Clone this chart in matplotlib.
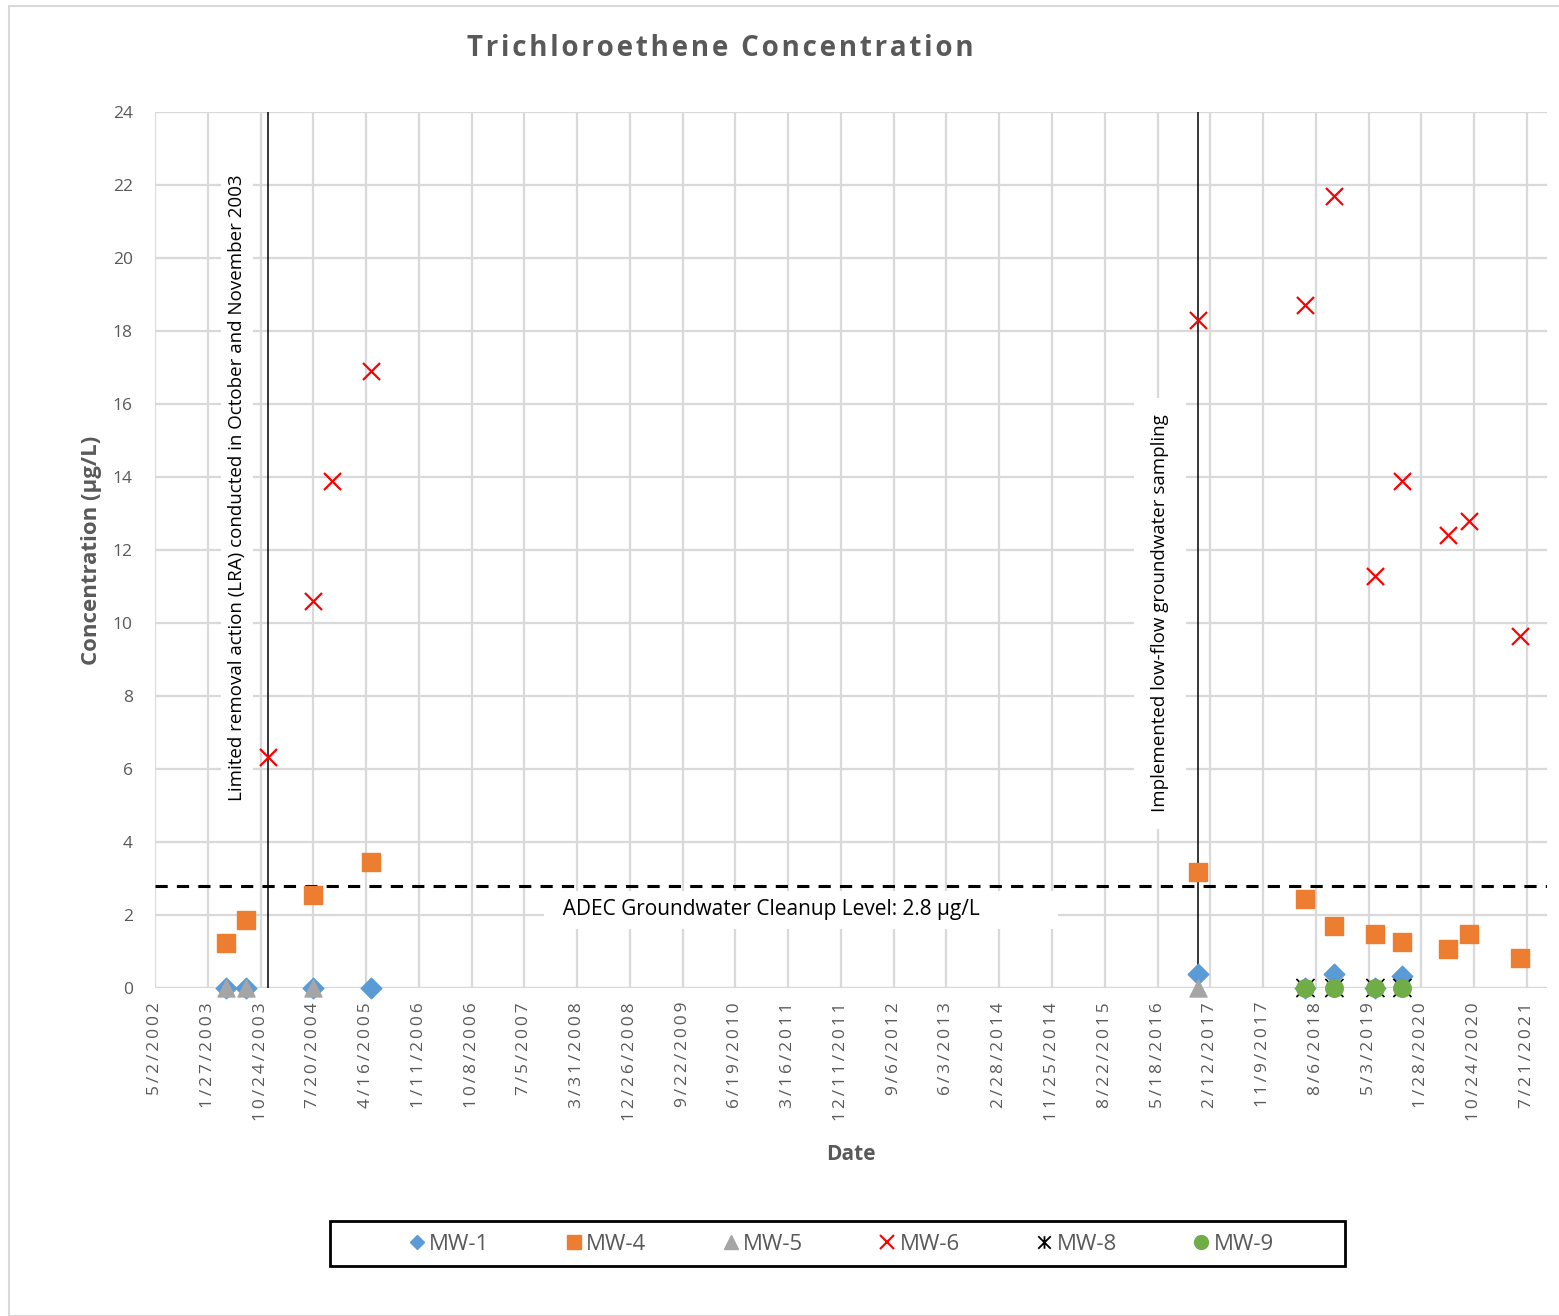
import numpy as np
import pandas as pd
import matplotlib
matplotlib.use("Agg")
import matplotlib.pyplot as plt
from matplotlib.patches import Rectangle
from matplotlib.lines import Line2D
from matplotlib.path import Path

plt.rcParams["font.family"] = ["Open Sans", "DejaVu Sans"]

GRAY_TXT = "#595959"
GRID = "#d9d9d9"

# ── sample results (µg/L) ─────────────────────────────────────────────────────
mw1_dates = ["2003-04-30", "2003-08-10", "2004-07-19", "2005-05-11", "2016-12-09",
             "2018-06-14", "2018-11-09", "2019-06-07", "2019-10-23"]
mw1_vals = [0, 0, 0, 0, 0.37, 0, 0.37, 0, 0.33]

mw4_dates = ["2003-04-30", "2003-08-10", "2004-07-19", "2005-05-11", "2016-12-09",
             "2018-06-14", "2018-11-09", "2019-06-07", "2019-10-23", "2020-06-14",
             "2020-09-30", "2021-06-18"]
mw4_vals = [1.24, 1.85, 2.54, 3.45, 3.19, 2.44, 1.71, 1.47, 1.27, 1.07, 1.49, 0.83]

mw5_dates = ["2003-04-30", "2003-08-10", "2004-07-19", "2016-12-09"]
mw5_vals = [0, 0, 0, 0]

mw6_dates = ["2003-12-01", "2004-07-19", "2004-10-24", "2005-05-11", "2016-12-09",
             "2018-06-14", "2018-11-09", "2019-06-07", "2019-10-23", "2020-06-14",
             "2020-09-30", "2021-06-18"]
mw6_vals = [6.33, 10.6, 13.9, 16.9, 18.3, 18.7, 21.7, 11.3, 13.9, 12.4, 12.8, 9.65]

mw8_dates = ["2018-06-14", "2018-11-09", "2019-06-07", "2019-10-23"]
mw8_vals = [0, 0, 0, 0]

mw9_dates = ["2018-06-14", "2018-11-09", "2019-06-07", "2019-10-23"]
mw9_vals = [0, 0, 0, 0]

cleanup_level = 2.8
lra_date = "2003-12-01"
lowflow_date = "2016-12-09"

# date axis: 270-day major unit starting 5/2/2002
tick_start = "2002-05-02"
tick_step_days = 270
n_ticks = 27
x_max = "2021-11-01"

THIN = "\u2009"
NBSP = "\u00a0"

# "star" marker: an X crossed by a vertical stroke
STAR = Path([(-1, -1), (1, 1), (-1, 1), (1, -1), (0, -1), (0, 1)],
            [Path.MOVETO, Path.LINETO, Path.MOVETO, Path.LINETO, Path.MOVETO, Path.LINETO])


def d(lst):
    return pd.to_datetime(lst)


def spaced(s, sep=THIN):
    return sep.join(s)


fig = plt.figure(figsize=(15.59, 13.16), dpi=100)
ax = fig.add_axes([155 / 1559, 1 - 988 / 1316, (1547 - 155) / 1559, (988 - 112) / 1316])

# outer chart border
fig.add_artist(Rectangle((9 / 1559, 0), 1.0, 1 - 6 / 1316, transform=fig.transFigure,
                         fill=False, edgecolor=GRID, linewidth=1.5))

ticks = pd.date_range(tick_start, periods=n_ticks, freq=f"{tick_step_days}D")
ax.set_xlim(pd.Timestamp(tick_start), pd.Timestamp(x_max))
ax.set_ylim(0, 24)
ax.set_xticks(ticks)
ax.set_xticklabels([spaced(f"{t.month}/{t.day}/{t.year}") for t in ticks], rotation=90,
                   color=GRAY_TXT, fontsize=12.5)
ax.set_yticks(np.arange(0, 25, 2))
ax.tick_params(axis="y", colors=GRAY_TXT, labelsize=12.5, length=0, pad=16)
ax.tick_params(axis="x", length=0, pad=10)
ax.grid(True, color=GRID, linewidth=1.6)
ax.set_axisbelow(True)
for s in ax.spines.values():
    s.set_visible(False)
ax.axhline(0, color=GRID, linewidth=1.6, zorder=1)

ax.set_xlabel("Date", fontsize=15, fontweight="bold", color=GRAY_TXT)
ax.xaxis.set_label_coords(0.5, -(1155 - 988) / 876, transform=ax.transAxes)
ax.xaxis.label.set_va("center")
ax.set_ylabel("Concentration (µg/L)", fontsize=16, fontweight="bold", color=GRAY_TXT)
ax.yaxis.set_label_coords((92 - 155) / 1392, 0.5, transform=ax.transAxes)
ax.yaxis.label.set_va("center")

# reference lines
ax.axhline(cleanup_level, color="black", linestyle=(0, (4, 3)), linewidth=2.2, zorder=3.5)
ax.axvline(pd.Timestamp(lra_date), color="black", linewidth=1.1, zorder=3.5)
ax.axvline(pd.Timestamp(lowflow_date), color="black", linewidth=1.1, zorder=3.5)

ax.text(pd.Timestamp("2003-06-26"), 13.7,
        "Limited removal action (LRA) conducted in October and November 2003",
        rotation=90, ha="center", va="center", fontsize=13.5, color="black",
        bbox=dict(facecolor="white", edgecolor="none", pad=5), zorder=3)
ax.text(pd.Timestamp("2016-05-30"), 10.27, "Implemented low-flow groundwater sampling",
        rotation=90, ha="center", va="center", fontsize=13.5, color="black",
        bbox=dict(facecolor="white", edgecolor="none", pad=12), zorder=3)
ax.text(pd.Timestamp("2007-11-23"), 2.14,
        NBSP * 2 + "ADEC Groundwater Cleanup Level: 2.8 µg/L" + NBSP * 13,
        ha="left", va="center", fontsize=15, color="black",
        bbox=dict(facecolor="white", edgecolor="none", pad=6), zorder=3)

# series
ax.scatter(d(mw1_dates), mw1_vals, marker="D", s=110, color="#5b9bd5", zorder=4,
           label="MW-1", clip_on=False)
ax.scatter(d(mw4_dates), mw4_vals, marker="s", s=150, color="#ed7d31", zorder=4,
           label="MW-4", clip_on=False)
ax.scatter(d(mw5_dates), mw5_vals, marker="^", s=150, color="#a5a5a5", zorder=5,
           label="MW-5", clip_on=False)
ax.scatter(d(mw6_dates), mw6_vals, marker="x", s=150, color="#ff0000", linewidths=1.6,
           zorder=5, label="MW-6", clip_on=False)
ax.scatter(d(mw8_dates), mw8_vals, marker=STAR, s=170, facecolors="none",
           edgecolors="black", linewidths=1.2, zorder=5, label="MW-8", clip_on=False)
ax.scatter(d(mw9_dates), mw9_vals, marker="o", s=160, color="#70ad47", zorder=6,
           label="MW-9", clip_on=False)

fig.text(720 / 1559, 1 - 48 / 1316, spaced("Trichloroethene Concentration", "\u200a"),
         ha="center", va="center", fontsize=20, fontweight="bold", color=GRAY_TXT)

# legend
fig.add_artist(Rectangle((330 / 1559, 1 - 1266 / 1316), (1345 - 330) / 1559, 45 / 1316,
                         transform=fig.transFigure, fill=False, edgecolor="black",
                         linewidth=2))
handles = [
    Line2D([], [], marker="D", color="#5b9bd5", linestyle="none", markersize=7),
    Line2D([], [], marker="s", color="#ed7d31", linestyle="none", markersize=10),
    Line2D([], [], marker="^", color="#a5a5a5", linestyle="none", markersize=10),
    Line2D([], [], marker="x", color="#ff0000", linestyle="none", markersize=10,
           markeredgewidth=1.5),
    Line2D([], [], marker=STAR, color="black", linestyle="none", markersize=9,
           markeredgewidth=1.3),
    Line2D([], [], marker="o", color="#70ad47", linestyle="none", markersize=10),
]
leg = fig.legend(handles, ["MW-1", "MW-4", "MW-5", "MW-6", "MW-8", "MW-9"],
                 loc="center", bbox_to_anchor=(842 / 1559, 1 - 1244 / 1316), ncol=6,
                 frameon=False, fontsize=16, handlelength=0.6, handletextpad=0.25,
                 columnspacing=3.5, labelcolor=GRAY_TXT)

fig.savefig("out.png", dpi=100)
